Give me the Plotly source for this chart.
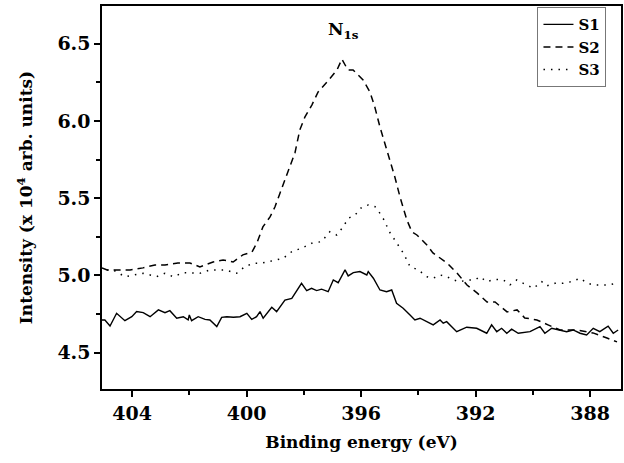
import plotly.graph_objects as go

# Binding energy (eV) and intensity (x 10^4 arb. units)
s1_energy = [405.12, 404.95, 404.77, 404.54, 404.25, 404.01, 403.84, 403.61, 403.37, 403.08,
             402.85, 402.68, 402.44, 402.21, 402.04, 402.00, 401.92, 401.69, 401.45, 401.28,
             401.04, 400.87, 400.69, 400.46, 400.23, 399.99, 399.82, 399.65, 399.53, 399.42,
             399.12, 398.95, 398.66, 398.42, 398.08, 397.90, 397.73, 397.55, 397.38, 397.15,
             396.97, 396.80, 396.56, 396.45, 396.27, 396.04, 395.80, 395.75, 395.57, 395.34,
             395.11, 394.93, 394.76, 394.53, 394.29, 394.12, 393.94, 393.71, 393.48, 393.24,
             393.13, 393.01, 392.66, 392.31, 391.96, 391.61, 391.44, 391.26, 391.09, 390.91,
             390.74, 390.51, 390.10, 389.75, 389.58, 389.34, 389.11, 388.82, 388.59, 388.35,
             388.12, 387.89, 387.66, 387.37, 387.19, 387.02]
s1_intensity = [4.712, 4.712, 4.673, 4.755, 4.707, 4.733, 4.766, 4.759, 4.733, 4.777,
                4.759, 4.772, 4.723, 4.733, 4.712, 4.744, 4.707, 4.733, 4.716, 4.712,
                4.669, 4.729, 4.733, 4.729, 4.733, 4.755, 4.716, 4.733, 4.766, 4.723,
                4.794, 4.766, 4.841, 4.852, 4.949, 4.902, 4.917, 4.902, 4.911, 4.895,
                4.971, 4.953, 5.036, 4.997, 5.018, 5.025, 5.003, 5.025, 4.982, 4.906,
                4.895, 4.906, 4.820, 4.788, 4.744, 4.712, 4.723, 4.701, 4.680, 4.712,
                4.691, 4.701, 4.636, 4.665, 4.658, 4.626, 4.680, 4.636, 4.658, 4.626,
                4.652, 4.626, 4.636, 4.669, 4.626, 4.658, 4.647, 4.636, 4.647, 4.626,
                4.615, 4.658, 4.636, 4.672, 4.626, 4.647]

s2_energy = [405.05, 404.87, 404.07, 403.62, 403.20, 402.85, 402.40, 401.98, 401.63, 401.17,
             400.82, 400.47, 400.13, 399.81, 399.64, 399.43, 399.18, 399.01, 398.83, 398.66,
             398.48, 398.31, 398.14, 397.96, 397.72, 397.50, 397.19, 396.84, 396.67, 396.46,
             396.28, 395.93, 395.69, 395.52, 395.34, 395.17, 394.99, 394.82, 394.64, 394.40,
             394.22, 394.05, 393.70, 393.49, 393.00, 392.65, 392.30, 391.95, 391.60, 391.32,
             390.90, 390.55, 390.28, 389.86, 389.47, 389.05, 388.46, 387.90, 387.41, 387.06]
s2_intensity = [5.049, 5.036, 5.036, 5.049, 5.068, 5.068, 5.081, 5.081, 5.055, 5.087,
                5.100, 5.087, 5.133, 5.152, 5.210, 5.314, 5.379, 5.443, 5.534, 5.618,
                5.702, 5.793, 5.942, 6.026, 6.103, 6.188, 6.252, 6.330, 6.400, 6.330,
                6.330, 6.265, 6.188, 6.090, 5.961, 5.858, 5.748, 5.637, 5.508, 5.359,
                5.281, 5.262, 5.197, 5.146, 5.081, 5.016, 4.938, 4.887, 4.828, 4.828,
                4.764, 4.777, 4.725, 4.712, 4.680, 4.647, 4.647, 4.628, 4.595, 4.570]

s3_energy = [404.88, 404.66, 404.25, 403.96, 403.61, 403.37, 403.14, 402.85, 402.56, 402.21,
             401.92, 401.63, 401.28, 401.04, 400.75, 400.35, 400.06, 399.76, 399.53, 399.24,
             399.01, 398.72, 398.42, 398.08, 397.73, 397.38, 397.09, 396.85, 396.62, 396.45,
             396.21, 395.98, 395.75, 395.51, 395.34, 395.16, 395.05, 394.87, 394.70, 394.52,
             394.29, 394.00, 393.71, 393.48, 393.24, 393.01, 392.78, 392.55, 392.26, 392.02,
             391.85, 391.61, 391.32, 391.03, 390.80, 390.56, 390.33, 389.98, 389.69, 389.52,
             389.23, 388.94, 388.64, 388.35, 388.12, 387.89, 387.60, 387.37, 387.10]
s3_intensity = [5.036, 5.036, 4.992, 5.003, 5.014, 5.003, 4.992, 5.014, 4.992, 5.018,
                5.014, 5.014, 5.036, 5.036, 5.036, 5.014, 5.057, 5.079, 5.079, 5.089,
                5.100, 5.111, 5.154, 5.176, 5.208, 5.219, 5.283, 5.262, 5.316, 5.370,
                5.391, 5.441, 5.456, 5.445, 5.402, 5.348, 5.294, 5.241, 5.197, 5.144,
                5.057, 5.036, 4.992, 4.982, 5.003, 4.992, 4.971, 4.960, 4.971, 4.971,
                4.992, 4.960, 4.975, 4.971, 4.939, 4.971, 4.949, 4.917, 4.960, 4.932,
                4.949, 4.949, 4.960, 4.982, 4.953, 4.938, 4.938, 4.938, 4.949]

series_names = ["S1", "S2", "S3"]
x_ticks = [404, 400, 396, 392, 388]
y_ticks = [4.5, 5.0, 5.5, 6.0, 6.5]
peak_label = "N<sub>1s</sub>"
peak_pos = (396.6, 6.5)

FONT = "DejaVu Serif"

fig = go.Figure()
fig.add_trace(go.Scatter(x=s1_energy, y=s1_intensity, mode="lines", name=series_names[0],
                         line=dict(color="black", width=1.4)))
fig.add_trace(go.Scatter(x=s2_energy, y=s2_intensity, mode="lines", name=series_names[1],
                         line=dict(color="black", width=1.5, dash="7px,5px")))
fig.add_trace(go.Scatter(x=s3_energy, y=s3_intensity, mode="lines", name=series_names[2],
                         line=dict(color="black", width=1.5, dash="1.5px,6px")))

fig.add_annotation(x=peak_pos[0], y=peak_pos[1], text=peak_label, showarrow=False,
                   yanchor="bottom", font=dict(family=FONT, size=17, color="black", weight="bold"))

axis_common = dict(showgrid=False, zeroline=False, showline=True, linecolor="black",
                   linewidth=1.5, mirror=True, ticks="outside", ticklen=6, tickwidth=1.5,
                   tickcolor="black", automargin=False,
                   tickfont=dict(family=FONT, size=19, color="black", weight="bold"))

fig.update_xaxes(range=[405.05, 386.92], tickvals=x_ticks,
                 ticktext=[str(v) for v in x_ticks],
                 minor=dict(ticks="outside", ticklen=4, tickwidth=1.5, tickcolor="black", dtick=2),
                 title=dict(text="Binding energy (eV)", standoff=14,
                            font=dict(family=FONT, size=17, color="black", weight="bold")),
                 **axis_common)
fig.update_yaxes(range=[4.265, 6.744], tickvals=y_ticks,
                 ticktext=[f"{v:.1f}" for v in y_ticks],
                 minor=dict(ticks="outside", ticklen=4, tickwidth=1.5, tickcolor="black", dtick=0.25),
                 title=dict(text="Intensity (x 10<sup>4</sup> arb. units)", standoff=20,
                            font=dict(family=FONT, size=17, color="black", weight="bold")),
                 **axis_common)

fig.update_layout(
    width=624, height=463,
    margin=dict(l=102, r=3, t=6, b=74),
    paper_bgcolor="white", plot_bgcolor="white",
    showlegend=True,
    legend=dict(x=0.972, y=0.997, xanchor="right", yanchor="top",
                bgcolor="white", bordercolor="#777777", borderwidth=1,
                font=dict(family=FONT, size=15, color="black", weight="bold"),
                tracegroupgap=0, itemwidth=30),
)

fig.write_html("out.html", config={"displayModeBar": False},
               post_script="document.body.style.margin='0';document.body.style.padding='0';")
